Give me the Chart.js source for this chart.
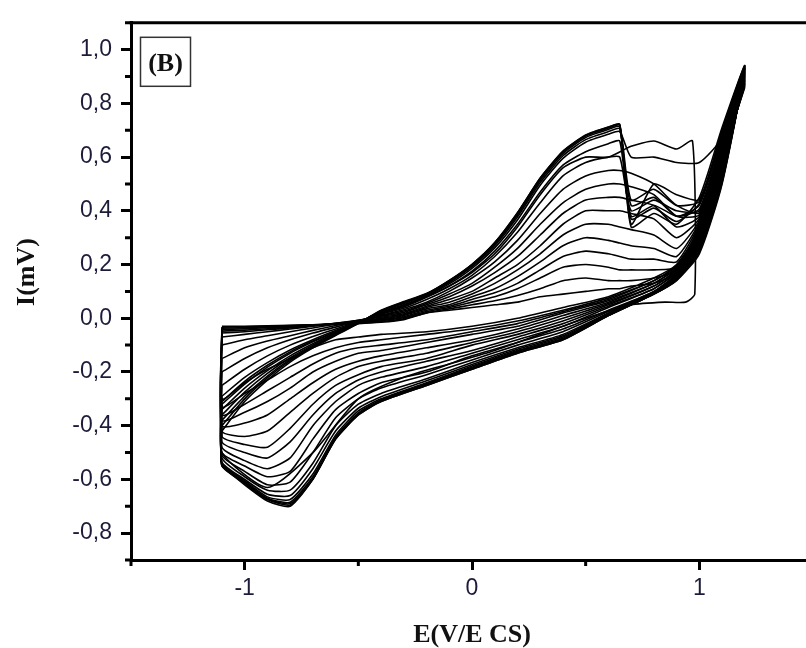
<!DOCTYPE html>
<html><head><meta charset="utf-8">
<script src="https://cdn.jsdelivr.net/npm/chart.js@4.4.1/dist/chart.umd.min.js"></script>
<style>html,body{margin:0;padding:0;background:#fff;overflow:hidden}#wrap{width:806px;height:648px;overflow:hidden;position:relative}canvas{display:block}</style>
</head><body><div id="wrap"><canvas id="c" width="830" height="648"></canvas></div>
<script>
// Potential (V/ECS) sweeps: forward -1.1 -> 1.2, reverse 1.2 -> -1.1
const potentialSweep = [-1.1,-1.0,-0.9,-0.8,-0.7,-0.6,-0.5,-0.4,-0.3,-0.2,-0.1,0,0.1,0.2,0.3,0.4,0.5,0.6,0.65,0.7,0.8,0.9,1.0,1.1,1.2,
  1.1,1.0,0.9,0.8,0.6,0.4,0.2,0,-0.2,-0.4,-0.5,-0.6,-0.7,-0.8,-0.9,-1.0,-1.1];
const potentialShortSweep = [-1.1,-1.0,-0.9,-0.8,-0.7,-0.6,-0.5,-0.4,-0.3,-0.2,-0.1,0,0.1,0.2,0.3,0.4,0.5,0.6,0.7,0.8,0.9,0.97,
  0.98,0.94,0.85,0.7,0.5,0.3,0.1,-0.1,-0.3,-0.5,-0.7,-0.9,-1.1];

// Current (mV) of each cycle (forward sweep, then reverse sweep)
const current01 = [-0.03,-0.03,-0.028,-0.026,-0.024,-0.022,-0.02,-0.015,-0.005, 0.02,0.03,0.04,0.05,0.06,0.08,0.09,0.1,0.11,0.11,0.12,0.13,0.17, 0.33,0.6,0.86,
  0.6,0.33,0.2, 0.15,0.08,0.04,0.0,-0.03,-0.05,-0.06,-0.07,-0.08,-0.11,-0.15,-0.19,-0.24,-0.3];
const current02 = [-0.033,-0.032,-0.03,-0.027,-0.024,-0.021,-0.018,-0.012,-0.002, 0.02,0.035,0.05,0.065,0.085,0.11,0.14,0.15,0.14,0.14,0.14,0.15,0.18, 0.337,0.606,0.865,
  0.594,0.325,0.197, 0.14,0.075,0.03,-0.01,-0.04,-0.06,-0.08,-0.09,-0.11,-0.14,-0.18,-0.23,-0.28,-0.33];
const current03 = [-0.037,-0.035,-0.032,-0.029,-0.025,-0.021,-0.016,-0.009,0.002, 0.025,0.04,0.06,0.08,0.11,0.15,0.19,0.2,0.19,0.18,0.18,0.18,0.19, 0.344,0.612,0.87,
  0.588,0.32,0.194, 0.14,0.07,0.025,-0.02,-0.05,-0.08,-0.1,-0.11,-0.13,-0.17,-0.22,-0.27,-0.32,-0.36];
const current04 = [-0.042,-0.039,-0.035,-0.031,-0.026,-0.021,-0.014,-0.006,0.006, 0.03,0.045,0.07,0.095,0.13,0.18,0.23,0.25,0.24,0.23,0.22,0.22,0.21, 0.351,0.618,0.875,
  0.582,0.315,0.19, 0.13,0.065,0.02,-0.03,-0.06,-0.09,-0.12,-0.13,-0.16,-0.2,-0.26,-0.31,-0.35,-0.38];
const current05 = [-0.048,-0.044,-0.039,-0.033,-0.027,-0.02,-0.012,-0.003,0.01, 0.035,0.05,0.08,0.11,0.155,0.21,0.27,0.3,0.29,0.28,0.27,0.26,0.23, 0.358,0.624,0.88,
  0.576,0.31,0.186, 0.13,0.06,0.01,-0.04,-0.08,-0.11,-0.14,-0.16,-0.19,-0.24,-0.3,-0.36,-0.39,-0.4];
const current06 = [-0.055,-0.05,-0.043,-0.036,-0.028,-0.019,-0.01,0.0,0.013, 0.04,0.06,0.09,0.13,0.18,0.24,0.31,0.35,0.35,0.34,0.33,0.31,0.26, 0.365,0.63,0.885,
  0.57,0.305,0.182, 0.12,0.055,0.0,-0.05,-0.09,-0.13,-0.16,-0.18,-0.22,-0.28,-0.35,-0.42,-0.44,-0.42];
const current07 = [-0.07,-0.06,-0.05,-0.04,-0.03,-0.019,-0.008,0.004,0.017, 0.045,0.07,0.1,0.15,0.2,0.27,0.35,0.4,0.4,0.4,0.39,0.37,0.3, 0.372,0.636,0.89,
  0.564,0.3,0.178, 0.12,0.05,-0.01,-0.06,-0.1,-0.15,-0.18,-0.21,-0.25,-0.32,-0.41,-0.48,-0.47,-0.44];
const current08 = [-0.1,-0.08,-0.065,-0.05,-0.036,-0.022,-0.008,0.007,0.022, 0.05,0.08,0.12,0.17,0.23,0.31,0.39,0.44,0.45,0.45,0.44,0.42,0.34, 0.379,0.642,0.895,
  0.558,0.295,0.174, 0.11,0.045,-0.02,-0.07,-0.12,-0.16,-0.2,-0.23,-0.28,-0.36,-0.46,-0.52,-0.5,-0.46];
const current09 = [-0.15,-0.11,-0.085,-0.065,-0.045,-0.027,-0.009,0.01,0.027, 0.055,0.09,0.13,0.19,0.26,0.35,0.43,0.48,0.5,0.5,0.49,0.46,0.38, 0.386,0.648,0.9,
  0.552,0.29,0.17, 0.11,0.04,-0.03,-0.08,-0.13,-0.18,-0.22,-0.25,-0.31,-0.4,-0.52,-0.56,-0.53,-0.48];
const current10 = [-0.2,-0.15,-0.11,-0.08,-0.055,-0.033,-0.01,0.012,0.032, 0.06,0.1,0.15,0.21,0.29,0.39,0.48,0.53,0.55,0.55,0.54,0.5,0.42, 0.393,0.654,0.905,
  0.546,0.285,0.166, 0.1,0.03,-0.04,-0.09,-0.14,-0.2,-0.24,-0.28,-0.34,-0.45,-0.57,-0.59,-0.55,-0.5];
const current11 = [-0.25,-0.19,-0.14,-0.1,-0.068,-0.04,-0.012,0.015,0.037, 0.07,0.11,0.16,0.23,0.32,0.43,0.53,0.58,0.6,0.6,0.4,0.44,0.4, 0.4,0.66,0.91,
  0.54,0.28,0.162, 0.1,0.025,-0.05,-0.1,-0.155,-0.21,-0.26,-0.3,-0.37,-0.5,-0.61,-0.62,-0.57,-0.51];
const current12 = [-0.29,-0.22,-0.165,-0.118,-0.08,-0.046,-0.014,0.018,0.042, 0.078,0.12,0.175,0.25,0.35,0.47,0.57,0.62,0.65,0.66,0.38,0.42,0.38, 0.407,0.666,0.915,
  0.534,0.275,0.158, 0.097,0.02,-0.06,-0.11,-0.165,-0.225,-0.28,-0.32,-0.4,-0.54,-0.64,-0.64,-0.59,-0.52];
const currentShort = [-0.31,-0.235,-0.175,-0.125,-0.085,-0.05,-0.016,0.02,0.045, 0.08,0.12,0.17,0.24,0.34,0.46,0.56,0.6,0.6,0.64,0.66,0.63,0.66,
  0.09,0.06,0.06,0.05,0.0,-0.06,-0.12,-0.17,-0.22,-0.3,-0.5,-0.63,-0.5];
const current13 = [-0.32,-0.245,-0.182,-0.13,-0.088,-0.05,-0.015,0.02,0.047, 0.083,0.128,0.186,0.262,0.366,0.495,0.595,0.655,0.685,0.695,0.6,0.6,0.58, 0.58,0.672,0.92,
  0.528,0.27,0.154, 0.095,0.018,-0.065,-0.115,-0.172,-0.233,-0.292,-0.335,-0.42,-0.56,-0.66,-0.655,-0.6,-0.535];
const current14 = [-0.34,-0.26,-0.195,-0.14,-0.095,-0.054,-0.016,0.022,0.05, 0.086,0.133,0.192,0.27,0.377,0.505,0.605,0.665,0.695,0.705,0.42,0.45,0.38, 0.421,0.678,0.925,
  0.522,0.265,0.15, 0.093,0.015,-0.07,-0.12,-0.178,-0.24,-0.3,-0.345,-0.435,-0.58,-0.675,-0.665,-0.605,-0.54];
const current15 = [-0.36,-0.275,-0.205,-0.147,-0.1,-0.057,-0.017,0.025,0.055, 0.088,0.136,0.196,0.275,0.384,0.513,0.613,0.673,0.703,0.713,0.37,0.41,0.36, 0.428,0.684,0.93,
  0.516,0.26,0.147, 0.092,0.013,-0.074,-0.124,-0.182,-0.244,-0.304,-0.352,-0.442,-0.59,-0.685,-0.67,-0.61,-0.545];
const current16 = [-0.38,-0.29,-0.215,-0.153,-0.104,-0.06,-0.018,0.027,0.058, 0.09,0.139,0.199,0.279,0.389,0.518,0.618,0.678,0.708,0.718,0.44,0.48,0.42, 0.435,0.69,0.935,
  0.51,0.255,0.144, 0.09,0.01,-0.078,-0.127,-0.186,-0.247,-0.307,-0.356,-0.447,-0.598,-0.69,-0.672,-0.612,-0.548];
const current17 = [-0.4,-0.3,-0.222,-0.158,-0.107,-0.062,-0.019,0.028,0.06, 0.091,0.14,0.2,0.281,0.392,0.521,0.621,0.681,0.711,0.72,0.35,0.5,0.46, 0.442,0.7,0.94,
  0.505,0.248,0.142, 0.09,0.01,-0.08,-0.13,-0.19,-0.25,-0.31,-0.36,-0.45,-0.6,-0.695,-0.675,-0.615,-0.55];
const current18 = [-0.42,-0.31,-0.23,-0.163,-0.11,-0.064,-0.02,0.03,0.062, 0.092,0.141,0.201,0.282,0.393,0.522,0.622,0.682,0.712,0.722,0.34,0.39,0.35, 0.45,0.71,0.94,
  0.5,0.24,0.14, 0.09,0.01,-0.08,-0.13,-0.19,-0.25,-0.31,-0.36,-0.45,-0.6,-0.7,-0.68,-0.62,-0.55];

// Axis ticks and texts
const xTickValues = [-1, 0, 1];
const xMinorTicks = [-1.5, -0.5, 0.5, 1.5];
const yTickValues = [-0.8, -0.6, -0.4, -0.2, 0, 0.2, 0.4, 0.6, 0.8, 1.0];
const yMinorTicks = [-0.9, -0.7, -0.5, -0.3, -0.1, 0.1, 0.3, 0.5, 0.7, 0.9, 1.1];
const xTitle = 'E(V/E CS)';
const yTitle = 'I(mV)';
const panelLabel = '(B)';

const cycles = [
  [potentialSweep, current01],[potentialSweep, current02],[potentialSweep, current03],[potentialSweep, current04],
  [potentialSweep, current05],[potentialSweep, current06],[potentialSweep, current07],[potentialSweep, current08],
  [potentialSweep, current09],[potentialSweep, current10],[potentialSweep, current11],[potentialSweep, current12],
  [potentialShortSweep, currentShort],[potentialSweep, current13],[potentialSweep, current14],[potentialSweep, current15],
  [potentialSweep, current16],[potentialSweep, current17],[potentialSweep, current18]
];

const datasets = cycles.map(([E, I], i) => {
  const pts = I.map((v, j) => ({x: E[j], y: v}));
  if (i < cycles.length - 1) {
    const [nE, nI] = cycles[i + 1];
    pts.push({x: nE[0], y: nI[0]});
  }
  return {data: pts, showLine: true, borderColor: '#000', borderWidth: 1.6, pointRadius: 0, tension: 0.2, fill: false};
});

const tickFont = {family: "'Liberation Sans', Arial, sans-serif", size: 23};
const tickColor = '#1c1c3a';

const decor = {
  id: 'decor',
  afterDraw(chart) {
    const {ctx, chartArea: a, scales: {x, y}} = chart;
    ctx.save();
    ctx.strokeStyle = '#000';
    ctx.lineWidth = 3;
    ctx.beginPath();
    ctx.moveTo(a.left - 1.5, a.top); ctx.lineTo(a.right, a.top);
    ctx.moveTo(a.right, a.top); ctx.lineTo(a.right, a.bottom);
    ctx.stroke();
    ctx.beginPath();
    xMinorTicks.forEach(v => { const p = x.getPixelForValue(v); ctx.moveTo(p, a.bottom); ctx.lineTo(p, a.bottom + 6); });
    yMinorTicks.forEach(v => { const p = y.getPixelForValue(v); ctx.moveTo(a.left - 6, p); ctx.lineTo(a.left, p); });
    ctx.stroke();
    // panel label box
    ctx.lineWidth = 1.5;
    ctx.strokeStyle = '#333';
    ctx.fillStyle = '#fff';
    ctx.fillRect(a.left + 9.5, a.top + 14.5, 50, 49);
    ctx.strokeRect(a.left + 9.5, a.top + 14.5, 50, 49);
    ctx.fillStyle = '#111';
    ctx.font = "bold 26px 'Liberation Serif', 'Times New Roman', serif";
    ctx.textAlign = 'center';
    ctx.textBaseline = 'middle';
    ctx.fillText(panelLabel, a.left + 34.5, a.top + 41);
    // y title
    ctx.translate(27, 272);
    ctx.rotate(-Math.PI / 2);
    ctx.fillText(yTitle, 0, 0);
    ctx.restore();
  }
};

new Chart(document.getElementById('c'), {
  type: 'scatter',
  data: {datasets},
  options: {
    responsive: false,
    animation: false,
    layout: {padding: {left: 0, right: 17, top: 15, bottom: 0}},
    plugins: {legend: {display: false}, tooltip: {enabled: false}},
    scales: {
      x: {
        type: 'linear', min: -1.5, max: 1.5,
        afterBuildTicks: s => { s.ticks = xTickValues.map(v => ({value: v})); },
        afterFit: s => { s.height = 88; },
        ticks: {font: tickFont, color: tickColor, padding: 5, maxRotation: 0, autoSkip: false,
          callback: v => String(v)},
        grid: {display: true, drawOnChartArea: false, drawTicks: true, tickLength: 10, tickWidth: 3, tickColor: '#000'},
        border: {display: true, color: '#000', width: 3},
        title: {display: true, text: xTitle, color: '#111', padding: {top: 0, bottom: 0},
          font: {family: "'Liberation Serif', 'Times New Roman', serif", size: 26, weight: 'bold', lineHeight: 1}}
      },
      y: {
        type: 'linear', min: -0.9, max: 1.1,
        afterBuildTicks: s => { s.ticks = yTickValues.map(v => ({value: v})); },
        afterFit: s => { s.width = 131; },
        ticks: {font: tickFont, color: tickColor, padding: 9, autoSkip: false,
          callback: v => v.toFixed(1).replace('.', ',')},
        grid: {display: true, drawOnChartArea: false, drawTicks: true, tickLength: 10, tickWidth: 3, tickColor: '#000'},
        border: {display: true, color: '#000', width: 3}
      }
    }
  },
  plugins: [decor]
});
</script>
</body></html>
